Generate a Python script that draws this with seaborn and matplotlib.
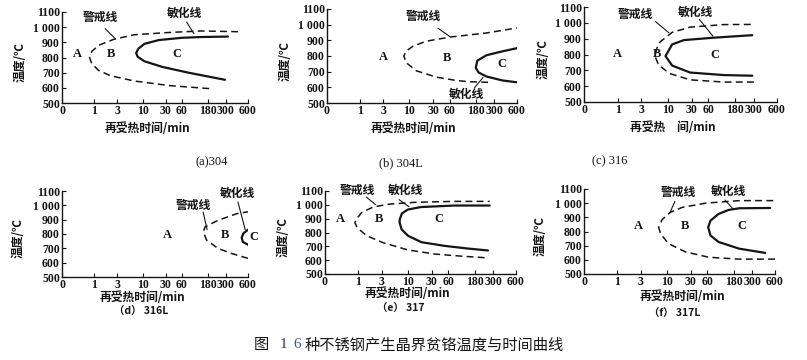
import numpy as np
import matplotlib
matplotlib.use("Agg")
import matplotlib.pyplot as plt
import seaborn as sns

# hand drawn time axis: tick values (min) and where they sit along the axis (0..1)
tick_min = [0, 1, 3, 10, 30, 60, 180, 300, 600]
tick_pos = [0, 0.174, 0.297, 0.434, 0.558, 0.645, 0.783, 0.880, 1.0]
tick_lab = ["0", "1", "3", "10", "30", "60", "180", "300", "600"]
temp_ticks = [500, 600, 700, 800, 900, 1000, 1100]
temp_lab = ["500", "600", "700", "800", "900", "1 000", "1100"]

# (a) 304
a_warn_t = [190, 36, 7.7, 2.4, 1.36, 0.92, 0.85, 0.92, 1.36, 2.7, 7.7, 36, 150, 476]
a_warn_T = [595, 615, 645, 680, 715, 760, 800, 840, 880, 920, 950, 965, 975, 970]
a_sens_t = [295, 90, 27, 11.5, 8.6, 8.2, 8.8, 11.5, 24, 60, 150, 330]
a_sens_T = [653, 700, 738, 775, 805, 830, 858, 890, 915, 930, 935, 938]
# (b) 304L
b_warn_t = [260, 150, 94, 36, 15.7, 9.1, 8.5, 9.1, 12.9, 24, 63, 250, 600]
b_warn_T = [632, 636, 643, 665, 706, 758, 800, 831, 862, 894, 921, 947, 979]
b_sens_t = [600, 408, 250, 198, 180, 190, 250, 410, 600]
b_sens_T = [632, 644, 669, 695, 725, 770, 805, 830, 850]
# (c) 316
c_warn_t = [300, 130, 28.7, 11.5, 7.6, 6.6, 7.2, 8, 13.7, 28.7, 130, 300]
c_warn_T = [626, 626, 640, 680, 733, 790, 845, 880, 940, 973, 989, 990]
c_sens_t = [290, 130, 28.7, 13.7, 9.4, 13.7, 23.5, 83, 290]
c_sens_T = [666, 670, 686, 730, 790, 864, 891, 906, 922]
# (d) 316L
d_warn_t = [600, 375, 248, 175, 160, 168, 248, 450, 600]
d_warn_T = [630, 665, 700, 758, 816, 850, 895, 942, 955]
d_sens_t = [600, 540, 515, 530, 600]
d_sens_T = [830, 805, 775, 745, 725]
# (e) 317
e_warn_t = [245, 120, 36, 10, 3.4, 1.7, 0.97, 0.9, 0.93, 1.3, 2.3, 5, 15.7, 90, 278]
e_warn_T = [618, 629, 644, 674, 726, 777, 835, 870, 893, 945, 985, 1005, 1018, 1025, 1025]
e_sens_t = [267, 150, 54, 21.4, 10, 8.3, 7.8, 7.8, 8.4, 10, 21, 90, 278]
e_sens_T = [670, 684, 703, 730, 777, 823, 870, 893, 938, 966, 984, 995, 995]
# (f) 317L
f_warn_t = [600, 216, 67.5, 25.7, 11.4, 8.3, 7.8, 8.7, 12.9, 22.9, 57, 216, 600]
f_warn_T = [605, 605, 618, 656, 714, 784, 830, 883, 936, 970, 1000, 1018, 1018]
f_sens_t = [471, 216, 112, 75, 64.5, 75, 112, 157, 216, 536]
f_sens_T = [649, 679, 726, 772, 830, 877, 924, 952, 964, 966]

captions = ["(a)304", "(b) 304L", "(c) 316", "（d） 316L", "（e） 317", "（f） 317L"]
xlabels = ["再受热时间/min", "再受热时间/min", "再受热　间/min",
           "再受热时间/min", "再受热时间/min", "再受热时间/min"]

sns.set_style("ticks")
cjk = ["Noto Sans CJK SC", "DejaVu Sans"]
serif = ["Liberation Serif", "DejaVu Serif"]
plt.rcParams["font.family"] = cjk
ink = "#151515"


def fwd(t):
    return np.interp(t, tick_min, tick_pos)


def inv(p):
    return np.interp(p, tick_pos, tick_min)


W, H = 807, 360
fig = plt.figure(figsize=(W / 100, H / 100), dpi=100)

# layout in pixels: left, right, top, bottom of each axes
boxes = [(62, 248, 12, 103), (327, 517, 9, 103), (584, 777, 7, 102),
         (62, 248, 191, 277), (325, 516, 191, 274), (584, 775, 189, 274)]
# A, B, C positions, label positions and leader lines (axes fractions)
marks = [
    dict(abc=[(0.084, 0.535), (0.264, 0.535), (0.616, 0.535)],
         warn=(0.205, 0.945), wl=[(0.232, 0.817), (0.286, 0.707)],
         sens=(0.66, 0.98), sl=[(0.67, 0.89), (0.709, 0.762)]),
    dict(abc=[(0.295, 0.486), (0.633, 0.475), (0.918, 0.42)],
         warn=(0.505, 0.92), wl=[(0.584, 0.796), (0.646, 0.707)],
         sens=(0.733, 0.09), sl=[(0.777, 0.164), (0.821, 0.271)]),
    dict(abc=[(0.175, 0.505), (0.379, 0.505), (0.677, 0.495)],
         warn=(0.266, 0.926), wl=[(0.371, 0.846), (0.44, 0.728)],
         sens=(0.58, 0.947), sl=[(0.598, 0.869), (0.668, 0.693)]),
    dict(abc=[(0.568, 0.484), (0.875, 0.484), (1.03, 0.465)],
         warn=(0.705, 0.833), wl=[(0.759, 0.756), (0.78, 0.55)],
         sens=(0.941, 0.969), sl=[(0.946, 0.872), (0.985, 0.55)]),
    dict(abc=[(0.083, 0.657), (0.284, 0.657), (0.595, 0.657)],
         warn=(0.172, 1.0), wl=[(0.216, 0.928), (0.264, 0.837)],
         sens=(0.419, 1.004), sl=[(0.388, 0.896), (0.44, 0.81)]),
    dict(abc=[(0.287, 0.567), (0.528, 0.563), (0.825, 0.567)],
         warn=(0.493, 0.96), wl=[(0.476, 0.854), (0.449, 0.717)],
         sens=(0.755, 0.972), sl=[(0.738, 0.87), (0.781, 0.764)]),
]
ylab_x = [-0.226, -0.221, -0.21, -0.237, -0.218, -0.23]
xlab_xy = [(0.457, -0.275), (0.453, -0.266), (0.461, -0.266),
           (0.43, -0.233), (0.43, -0.24), (0.513, -0.27)]
cap_xy = [(212, 162), (401, 163), (610, 161), (141, 312), (401, 309), (675, 314)]

curves = [(a_warn_t, a_warn_T, a_sens_t, a_sens_T),
          (b_warn_t, b_warn_T, b_sens_t, b_sens_T),
          (c_warn_t, c_warn_T, c_sens_t, c_sens_T),
          (d_warn_t, d_warn_T, d_sens_t, d_sens_T),
          (e_warn_t, e_warn_T, e_sens_t, e_sens_T),
          (f_warn_t, f_warn_T, f_sens_t, f_sens_T)]

for i, (l, r, t, b) in enumerate(boxes):
    ax = fig.add_axes([l / W, 1 - b / H, (r - l) / W, (b - t) / H])
    ax.set_xscale("function", functions=(fwd, inv))
    wt, wT, st, sT = curves[i]
    sns.lineplot(x=wt, y=wT, sort=False, estimator=None, ax=ax, color=ink,
                 lw=1.1, linestyle=(0, (4.5, 2.8)))
    sns.lineplot(x=st, y=sT, sort=False, estimator=None, ax=ax, color=ink, lw=1.6)
    ax.set_xlim(0, 600)
    ax.set_ylim(500, 1100)
    ax.set_xticks(tick_min)
    ax.set_xticklabels(tick_lab)
    ax.set_yticks(temp_ticks)
    ax.set_yticklabels(temp_lab)
    ax.tick_params(direction="in", length=3, width=0.8, pad=1.5, labelsize=8.5,
                   colors=ink)
    for lab in ax.get_xticklabels() + ax.get_yticklabels():
        lab.set_fontfamily(serif)
        lab.set_fontweight("bold")
    sns.despine(ax=ax)
    for s in ["left", "bottom"]:
        ax.spines[s].set_linewidth(1.0)
        ax.spines[s].set_color(ink)
    ax.set_xlabel(xlabels[i], fontsize=8.5, fontweight="bold", color=ink, va="center")
    ax.xaxis.set_label_coords(*xlab_xy[i])
    ax.set_ylabel("温度/℃", fontsize=8.5, fontweight="bold", color=ink,
                  va="center", ha="center")
    ax.yaxis.set_label_coords(ylab_x[i], 0.45)

    m = marks[i]
    for (x, y), s in zip(m["abc"], "ABC"):
        ax.text(x, y, s, transform=ax.transAxes, ha="center", va="center",
                fontsize=9, fontweight="bold", family=serif, color=ink, clip_on=False)
    ax.text(*m["warn"], "警戒线", transform=ax.transAxes, ha="center", va="center",
            fontsize=8.5, fontweight="bold", color=ink, clip_on=False)
    ax.text(*m["sens"], "敏化线", transform=ax.transAxes, ha="center", va="center",
            fontsize=8.5, fontweight="bold", color=ink, clip_on=False)
    for seg in (m["wl"], m["sl"]):
        ax.plot([seg[0][0], seg[1][0]], [seg[0][1], seg[1][1]], transform=ax.transAxes,
                color=ink, lw=0.8, clip_on=False)

    cx, cy = cap_xy[i]
    if i < 3:
        fig.text(cx / W, 1 - cy / H, captions[i], ha="center", va="center",
                 fontsize=9, family=serif, color=ink)
    else:
        fig.text(cx / W, 1 - cy / H, captions[i], ha="center", va="center",
                 fontsize=7.5, fontweight="bold", color=ink)

# figure title
ty = 1 - 345 / H
fig.text(261 / W, ty, "图", ha="center", va="center", fontsize=11, color=ink)
fig.text(283 / W, ty, "1", ha="center", va="center", fontsize=11, family=serif,
         color="#2c3a66")
fig.text(297 / W, ty, "6", ha="center", va="center", fontsize=11, family=serif,
         color="#3a5aa0")
fig.text(305 / W, ty, "种不锈钢产生晶界贫铬温度与时间曲线", ha="left", va="center",
         fontsize=11, color=ink)

fig.savefig("out.png", dpi=100, facecolor="white")
